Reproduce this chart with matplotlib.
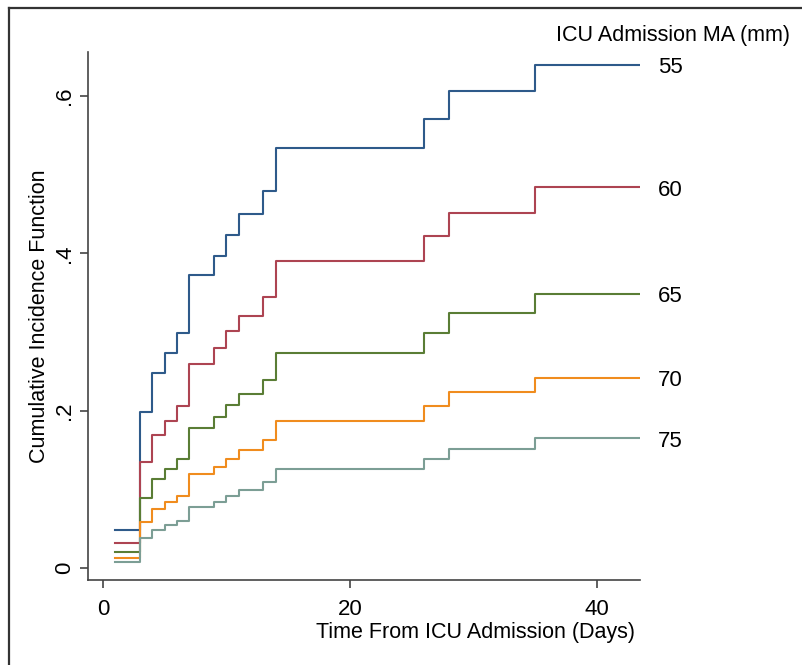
import matplotlib.pyplot as plt
from matplotlib.lines import Line2D

plt.rcParams['font.family'] = ['Liberation Sans', 'DejaVu Sans']

# event times (days); first point is the start, last is the end of follow-up
times = [1, 3, 4, 5, 6, 7, 9, 10, 11, 13, 14, 26, 28, 35, 43.5]

ma_levels = ['55', '60', '65', '70', '75']

cif_55 = [0.049, 0.198, 0.248, 0.273, 0.299, 0.373, 0.397, 0.423, 0.450, 0.479, 0.534, 0.571, 0.606, 0.640]
cif_60 = [0.032, 0.135, 0.169, 0.187, 0.206, 0.260, 0.280, 0.301, 0.321, 0.345, 0.390, 0.422, 0.452, 0.484]
cif_65 = [0.021, 0.089, 0.113, 0.126, 0.139, 0.178, 0.192, 0.207, 0.222, 0.239, 0.274, 0.299, 0.324, 0.349]
cif_70 = [0.0135, 0.0585, 0.075, 0.084, 0.092, 0.120, 0.129, 0.139, 0.150, 0.163, 0.1875, 0.206, 0.224, 0.242]
cif_75 = [0.0085, 0.039, 0.0487, 0.0546, 0.0605, 0.078, 0.0846, 0.0919, 0.100, 0.109, 0.126, 0.139, 0.151, 0.165]

colors = ['#2e5a8a', '#ad4452', '#5a7d35', '#f08c1e', '#7c9e95']

x_ticks = [0, 20, 40]
y_ticks = [0, 0.2, 0.4, 0.6]
y_tick_labels = ['0', '.2', '.4', '.6']


def main():
    fig = plt.figure(figsize=(8.03, 6.65), dpi=100)
    ax = fig.add_axes([88 / 803, 85 / 665, 552 / 803, 528 / 665])

    all_series = [cif_55, cif_60, cif_65, cif_70, cif_75]
    for vals, lab, col in zip(all_series, ma_levels, colors):
        y = vals + [vals[-1]]
        ax.step(times, y, where='post', color=col, lw=1.5)
        ax.annotate(lab, xy=(times[-1], vals[-1]), xytext=(13, -2),
                    textcoords='offset points', va='center', ha='left',
                    fontsize=16, annotation_clip=False)

    ax.set_xlim(-1.2, 43.5)
    ax.set_ylim(-0.0149, 0.656)
    ax.set_xticks(x_ticks)
    ax.set_yticks(y_ticks)
    ax.set_yticklabels(y_tick_labels, rotation=90, va='center')

    for s in ['top', 'right']:
        ax.spines[s].set_visible(False)
    for s in ['left', 'bottom']:
        ax.spines[s].set_color('#444444')
        ax.spines[s].set_linewidth(1.2)
    ax.tick_params(direction='out', length=6, width=1.2, color='#444444',
                   labelsize=16)
    ax.tick_params(axis='x', pad=8)
    ax.tick_params(axis='y', pad=3)

    ax.set_xlabel('Time From ICU Admission (Days)', fontsize=15.5, ha='right')
    ax.xaxis.set_label_coords(0.991, -0.0985)
    ax.xaxis.label.set_va('center')
    ax.set_ylabel('Cumulative Incidence Function', fontsize=15.5)
    ax.yaxis.set_label_coords(-0.087, 0.5)
    ax.yaxis.label.set_va('center')

    fig.text(556 / 803, 1 - 35 / 665, 'ICU Admission MA (mm)', fontsize=15.5,
             ha='left', va='center')

    # partial outer frame (left and top)
    fig.add_artist(Line2D([9 / 803, 9 / 803], [0, 1 - 8 / 665],
                          transform=fig.transFigure, color='#333333', lw=1.6))
    fig.add_artist(Line2D([9 / 803, 1], [1 - 8 / 665, 1 - 8 / 665],
                          transform=fig.transFigure, color='#333333', lw=1.6))

    fig.savefig('out.png', dpi=100)


if __name__ == "__main__":
    main()
